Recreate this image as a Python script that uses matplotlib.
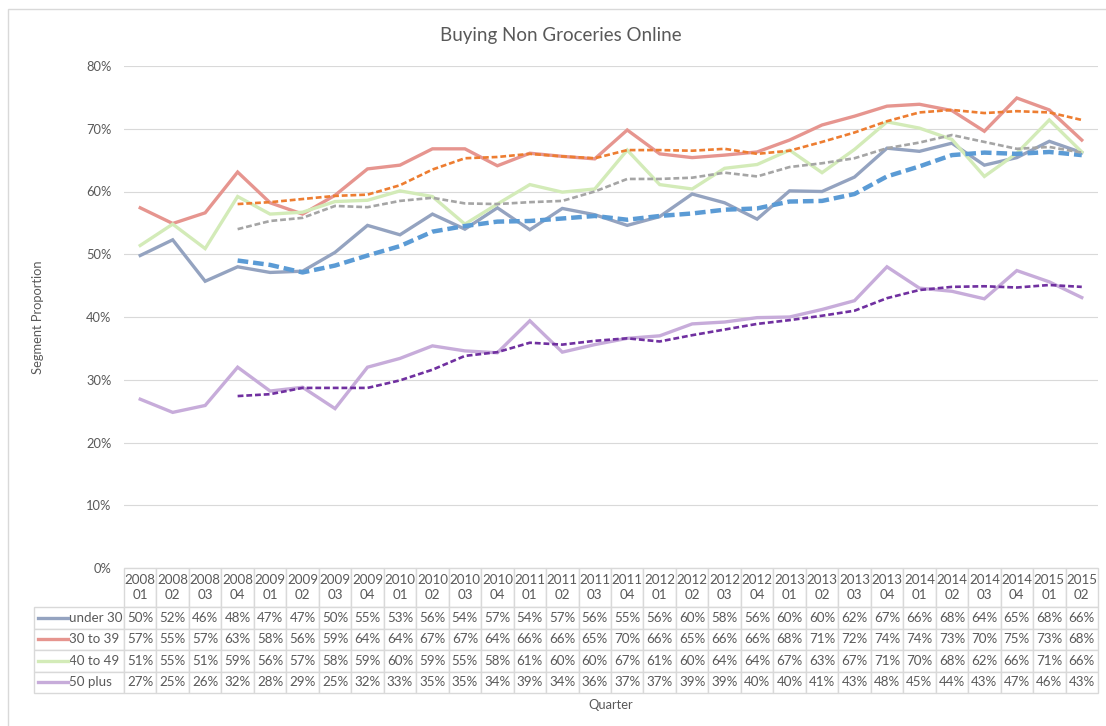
import numpy as np
import matplotlib
matplotlib.use("Agg")
import matplotlib.pyplot as plt
from matplotlib.table import Table
from matplotlib.lines import Line2D
from matplotlib.patches import Rectangle

plt.rcParams['font.family'] = ['Lato', 'DejaVu Sans']

nan = np.nan
quarters = ["2008\n01", "2008\n02", "2008\n03", "2008\n04", "2009\n01", "2009\n02", "2009\n03", "2009\n04",
            "2010\n01", "2010\n02", "2010\n03", "2010\n04", "2011\n01", "2011\n02", "2011\n03", "2011\n04",
            "2012\n01", "2012\n02", "2012\n03", "2012\n04", "2013\n01", "2013\n02", "2013\n03", "2013\n04",
            "2014\n01", "2014\n02", "2014\n03", "2014\n04", "2015\n01", "2015\n02"]

segments = ["under 30", "30 to 39", "40 to 49", "50 plus"]

under30 = [49.8, 52.3, 45.7, 48.0, 47.1, 47.3, 50.3, 54.6, 53.1, 56.4, 54.0, 57.4, 53.9, 57.3, 56.3,
           54.6, 56.0, 59.6, 58.2, 55.6, 60.1, 60.0, 62.3, 66.9, 66.4, 67.7, 64.2, 65.4, 68.0, 66.2]
thirty = [57.4, 54.9, 56.6, 63.1, 58.2, 56.4, 59.4, 63.6, 64.2, 66.8, 66.8, 64.1, 66.1, 65.6, 65.2,
          69.8, 66.0, 65.4, 65.8, 66.3, 68.2, 70.6, 72.0, 73.6, 73.9, 72.9, 69.6, 74.9, 73.0, 68.2]
forty = [51.4, 54.8, 50.9, 59.2, 56.4, 56.7, 58.4, 58.6, 60.1, 59.2, 54.8, 58.0, 61.1, 59.9, 60.4,
         66.6, 61.1, 60.4, 63.7, 64.3, 66.6, 63.0, 66.7, 71.1, 70.1, 68.3, 62.4, 66.1, 71.4, 66.3]
fifty = [26.9, 24.8, 25.9, 32.0, 28.2, 28.8, 25.4, 32.0, 33.4, 35.4, 34.6, 34.3, 39.4, 34.4, 35.6,
         36.6, 37.0, 38.9, 39.2, 39.9, 40.0, 41.2, 42.6, 48.0, 44.6, 44.1, 42.9, 47.4, 45.6, 43.1]

# moving average trend lines
trend_under30 = [nan, nan, nan, 49.0, 48.3, 47.1, 48.2, 49.8, 51.3, 53.6, 54.5, 55.2, 55.3, 55.7, 56.1,
                 55.5, 56.1, 56.5, 57.1, 57.3, 58.4, 58.5, 59.6, 62.4, 64.0, 65.8, 66.2, 66.0, 66.3, 65.8]
trend_thirty = [nan, nan, nan, 58.0, 58.3, 58.8, 59.3, 59.5, 61.0, 63.5, 65.3, 65.5, 66.0, 65.6, 65.3,
                66.6, 66.6, 66.5, 66.8, 66.0, 66.5, 67.9, 69.4, 71.2, 72.6, 73.0, 72.5, 72.8, 72.6, 71.4]
trend_forty = [nan, nan, nan, 54.0, 55.3, 55.8, 57.7, 57.5, 58.5, 59.0, 58.1, 58.0, 58.3, 58.5, 60.0,
               62.0, 62.0, 62.2, 63.0, 62.4, 63.9, 64.5, 65.3, 66.9, 67.8, 69.0, 67.9, 66.8, 67.1, 66.2]
trend_fifty = [nan, nan, nan, 27.4, 27.7, 28.7, 28.7, 28.7, 29.9, 31.6, 33.8, 34.4, 35.9, 35.6, 36.2,
               36.6, 36.1, 37.1, 38.0, 38.9, 39.5, 40.2, 41.0, 43.0, 44.3, 44.8, 44.9, 44.7, 45.1, 44.8]

series = [under30, thirty, forty, fifty]
trends = [trend_under30, trend_thirty, trend_forty, trend_fifty]
line_colors = ['#94A3C0', '#E6958F', '#D3EBB8', '#C7ACDA']
trend_colors = ['#5B9BD5', '#ED7D31', '#A5A5A5', '#7030A0']
trend_widths = [3.2, 1.9, 1.9, 1.9]
text_col = '#595959'
grid_col = '#D9D9D9'

W, H = 1106, 726
fig = plt.figure(figsize=(W / 100, H / 100), dpi=100)
ax_l, ax_r, ax_t, ax_b = 124, 1098, 66, 568
ax = fig.add_axes([ax_l / W, 1 - ax_b / H, (ax_r - ax_l) / W, (ax_b - ax_t) / H])

fig.patches.append(Rectangle((8 / W, -0.1), 1.2, 1.1 - 9 / H, transform=fig.transFigure,
                             fill=False, edgecolor=grid_col, linewidth=1))

x = np.arange(len(quarters))
for vals, c in zip(series, line_colors):
    ax.plot(x, vals, color=c, linewidth=2.4, solid_joinstyle='miter', zorder=3)
for vals, c, lw in zip(trends, trend_colors, trend_widths):
    dash = (2.4, 1.1) if lw > 3 else (2.2, 1.1)
    ax.plot(x, vals, color=c, linewidth=lw, linestyle=(0, dash), zorder=4)

ax.set_xlim(-0.5, len(quarters) - 0.5)
ax.set_ylim(0, 80)
ax.set_yticks(np.arange(0, 81, 10))
ax.set_yticklabels([f"{v}%" for v in range(0, 81, 10)])
ax.set_xticks([])
ax.tick_params(axis='y', length=0, pad=9, labelsize=9.3, labelcolor=text_col)
ax.yaxis.grid(True, color=grid_col, linewidth=0.8)
ax.set_axisbelow(True)
for s in ax.spines.values():
    s.set_visible(False)

# data table under the chart
tbl_l, tbl_b = 34, 693
hdr_h = 39
row_h = (tbl_b - ax_b - hdr_h) / len(segments)
lab_w = ax_l - tbl_l
col_w = (ax_r - ax_l) / len(quarters)
axw, axh = ax_r - ax_l, ax_b - ax_t
tbl = Table(ax, bbox=[(tbl_l - ax_l) / axw, -(tbl_b - ax_b) / axh, (ax_r - tbl_l) / axw, (tbl_b - ax_b) / axh])
for j, q in enumerate(quarters):
    cell = tbl.add_cell(0, j + 1, col_w, hdr_h, text=q, loc='center', edgecolor=grid_col)
    cell.get_text().set_color(text_col)
    cell.get_text().set_linespacing(1.25)
for i, (name, vals) in enumerate(zip(segments, series)):
    cell = tbl.add_cell(i + 1, 0, lab_w, row_h, text=name, loc='left', edgecolor=grid_col)
    cell.PAD = 0.385
    cell.get_text().set_color(text_col)
    for j, v in enumerate(vals):
        cell = tbl.add_cell(i + 1, j + 1, col_w, row_h, text=f"{int(v + 0.5)}%", loc='center', edgecolor=grid_col)
        cell.get_text().set_color(text_col)
tbl.auto_set_font_size(False)
tbl.set_fontsize(9.6)
ax.add_table(tbl)

# legend keys inside the row label cells
for i, c in enumerate(line_colors):
    yc = -(hdr_h + row_h * (i + 0.5)) / axh
    ax.add_line(Line2D([(38 - ax_l) / axw, (68 - ax_l) / axw], [yc, yc], transform=ax.transAxes,
                       color=c, linewidth=2.4, clip_on=False))

fig.text(561 / W, 1 - 35 / H, "Buying Non Groceries Online", ha='center', va='center', fontsize=13.5, color=text_col)
fig.text(38 / W, 1 - (ax_t + ax_b) / 2 / H, "Segment Proportion", rotation=90, ha='center', va='center',
         fontsize=9.3, color=text_col)
fig.text((ax_l + ax_r) / 2 / W, 1 - 705 / H, "Quarter", ha='center', va='center', fontsize=9.3, color=text_col)

fig.savefig("out.png", dpi=100)
